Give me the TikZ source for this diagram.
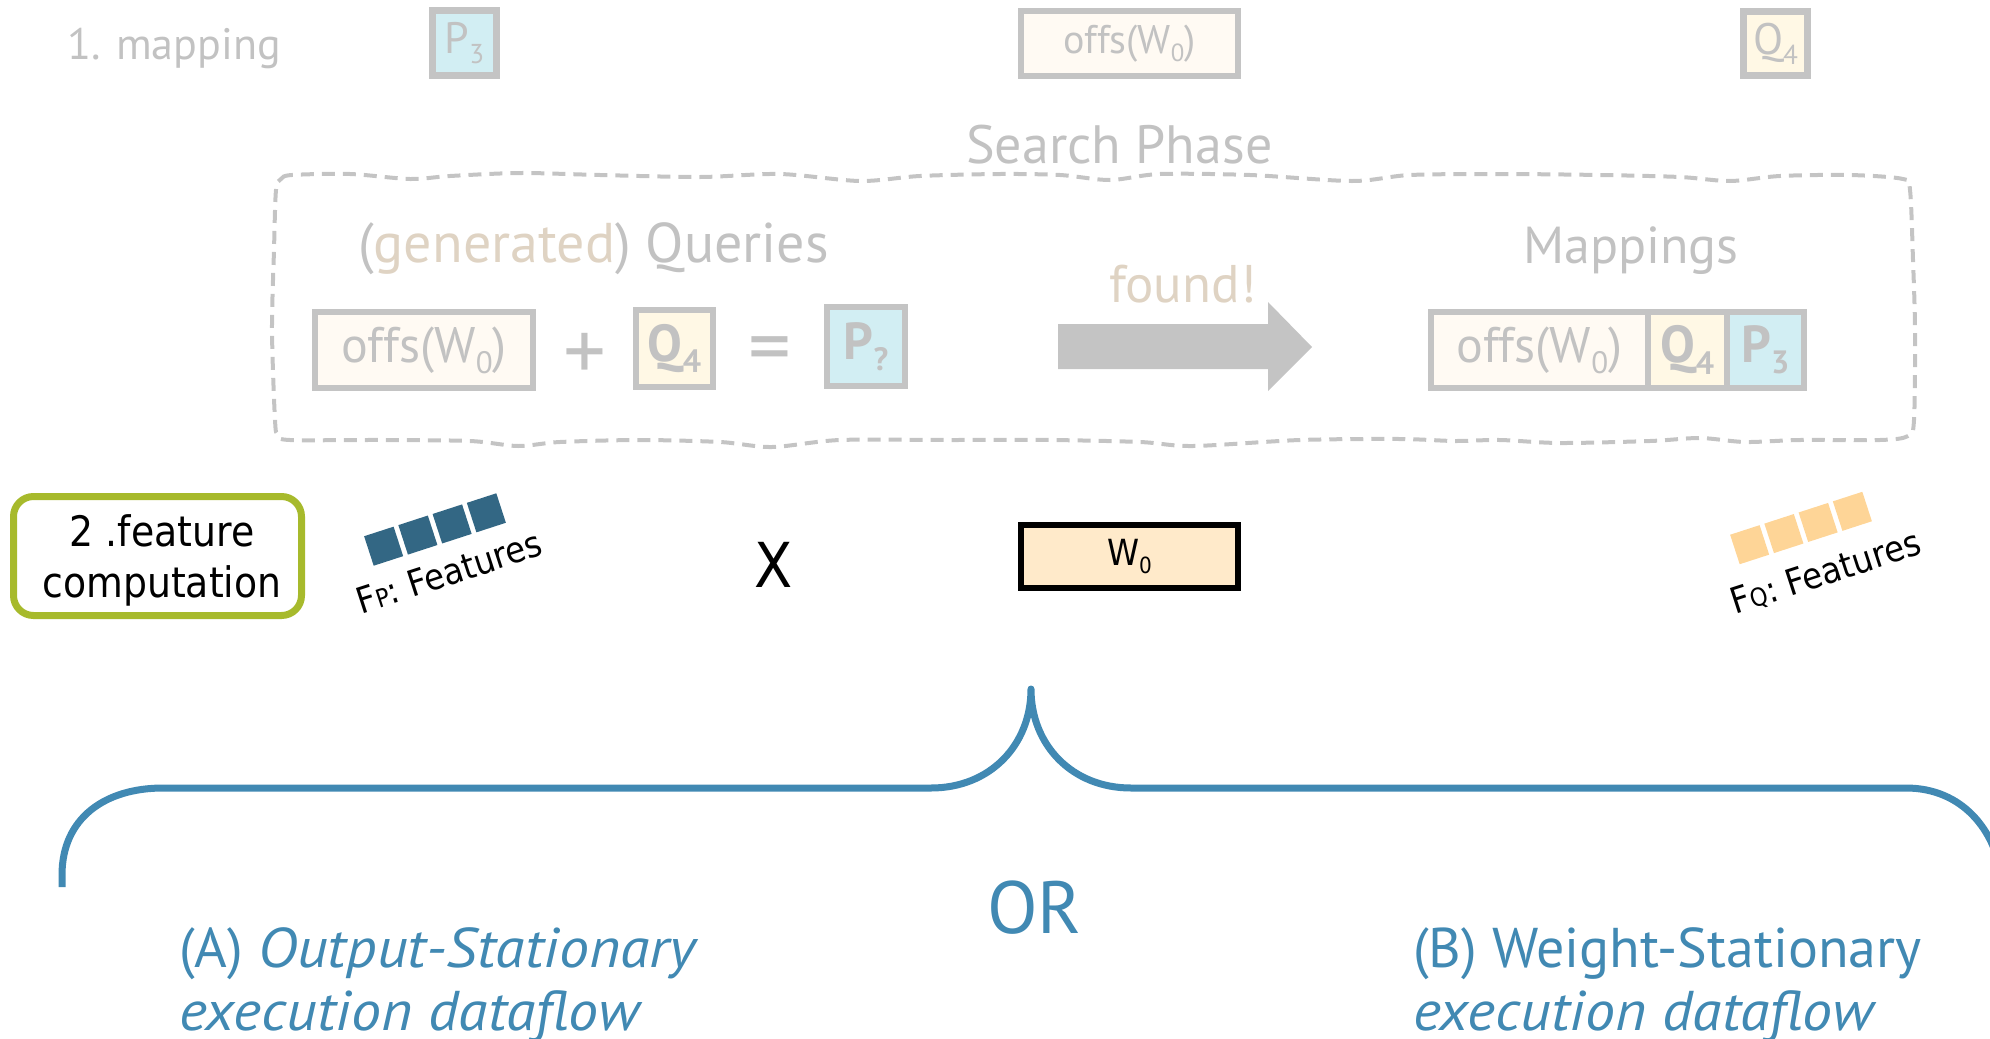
\documentclass[tikz,border=0pt]{standalone}
\usepackage{fontspec}
\usepackage{graphicx}
\setmainfont{PT Sans}
\newfontfamily\blk[FakeStretch=0.9]{DejaVu Sans}
\newfontfamily\itf[FakeStretch=1.07]{PT Sans Italic}
\newcommand\fsz[1]{\fontsize{#1}{#1}\selectfont}
\newcommand\lo[1]{\raisebox{-0.22em}{\scalebox{0.62}{#1}}}
\definecolor{gborder}{HTML}{C4C4C4}
\definecolor{gtext}{HTML}{C2C2C2}
\definecolor{tanc}{HTML}{DFD3C3}
\definecolor{cream}{HTML}{FFFAF3}
\definecolor{ylw}{HTML}{FFF8E5}
\definecolor{pcyan}{HTML}{D2EEF3}
\definecolor{wfill}{HTML}{FFEACA}
\definecolor{fpblue}{HTML}{336784}
\definecolor{fqorange}{HTML}{FED597}
\definecolor{gboxc}{HTML}{A7BA2C}
\definecolor{bblue}{HTML}{4189B3}
\begin{document}
\begin{tikzpicture}[x=1pt,y=-1pt,
  gtxt/.style={inner sep=0pt, text=gtext},
  topbox/.style={draw=gborder, line width=7pt, inner sep=0pt, text=gtext, font=\fsz{40}},
  qbox/.style={draw=gborder, line width=6pt, inner sep=0pt, text=gtext, font=\fsz{50}},
  fpsq/.style={fill=fpblue, minimum size=31pt, inner sep=0pt, transform shape},
  fqsq/.style={fill=fqorange, minimum size=31pt, inner sep=0pt, transform shape},
  feat/.style={inner sep=0pt, font=\blk\fsz{36}, rotate=18},
  bluetxt/.style={inner sep=0pt, text=bblue, font=\fsz{56}},
  brace/.style={draw=bblue, line width=7pt, line join=round}
]
\useasboundingbox (0,0) rectangle (1990,1039);
\clip (0,0) rectangle (1990,1039);

% ---- top row
\node[gtxt, anchor=base west, font=\fsz{44}] (map) at (67,59) {1. mapping};
\node[topbox, fill=pcyan, minimum width=64pt, minimum height=65pt, font=\fsz{44}] (p3top) at (464.5,43) {P\lo{3}};
\node[topbox, line width=6pt, fill=cream, minimum width=217pt, minimum height=65pt] (offtop) at (1129.5,43.5) {offs(W\lo{0})};
\node[topbox, fill=ylw, minimum width=64pt, minimum height=64pt, font=\fsz{44}] (q4top) at (1775.5,43.5) {Q\lo{4}};

% ---- search phase
\node[gtxt, anchor=base west, font=\fsz{54}] (search) at (966,163) {Search Phase};
\draw[gborder, line width=4pt, dash pattern=on 13pt off 8pt]
  plot[smooth cycle, tension=0.5] coordinates {
  (276,190) (281,179) (292,175) (350,174) (410,179) (450,176) (520,173) (600,175)
  (700,177) (780,174) (860,181) (920,176) (1000,174) (1060,175) (1110,180) (1160,174)
  (1250,175) (1352,181) (1410,175) (1500,174) (1600,175) (1680,177) (1730,181) (1780,176)
  (1850,175) (1903,179) (1910,190) (1913,260) (1915,330) (1914,420) (1908,436) (1880,440)
  (1800,440) (1745,442) (1700,438) (1650,441) (1560,443) (1500,440) (1455,441) (1400,439)
  (1300,440) (1193,446) (1140,442) (1050,440) (950,440) (840,440) (772,447) (720,442)
  (640,440) (560,442) (518,446) (470,441) (380,440) (290,440) (278,435) (275,420)
  (272,330) (274,250)};

\node[gtxt, anchor=base west, font=\fsz{56}] (queries) at (358,262) {(\textcolor{tanc}{generated}) Queries};
\node[qbox, fill=cream, minimum width=218pt, minimum height=76pt] (offq) at (424,350) {offs(W\lo{0})};
\node[gtxt, font=\fsz{85}] (plus) at (585,357) {+};
\node[qbox, fill=ylw, minimum width=77pt, minimum height=77pt, font=\bfseries\fsz{52}] (q4q) at (674.5,348.5) {Q\lo{4}};
\node[gtxt, font=\fsz{85}] (eq) at (770,356) {=};
\node[qbox, fill=pcyan, minimum width=78pt, minimum height=79pt, font=\bfseries\fsz{52}] (pq) at (866,346.5) {P\lo{?}};

\node[anchor=base west, inner sep=0pt, text=tanc, font=\fsz{53}] (found) at (1109,302) {found!};
\fill[gborder] (1058,324) -- (1268,324) -- (1268,302) -- (1312,347) -- (1268,391) -- (1268,369) -- (1058,369) -- cycle;

\node[gtxt, anchor=base west, font=\fsz{52}] (mappings) at (1523,263) {Mappings};
\node[qbox, fill=cream, minimum width=217pt, minimum height=76pt] (m1) at (1539.5,350) {offs(W\lo{0})};
\node[qbox, fill=ylw, minimum width=79pt, minimum height=76pt, font=\bfseries\fsz{52}] (m2) at (1687.5,350) {Q\lo{4}};
\node[qbox, fill=pcyan, minimum width=77pt, minimum height=76pt, font=\bfseries\fsz{52}] (m3) at (1765.5,350) {P\lo{3}};

% ---- feature computation row
\node[draw=gboxc, line width=7pt, rounded corners=20pt, minimum width=288pt, minimum height=119pt,
  inner sep=0pt] (fc) at (157.5,556) {};
\node[inner sep=0pt, anchor=base, font=\blk\fsz{42}] (fc1) at (162,546) {2 .feature};
\node[inner sep=0pt, anchor=base, font=\blk\fsz{42}] (fc2) at (162,597) {computation};

\begin{scope}[shift={(435,529.5)}, rotate=18]
  \node[fpsq] (fp1) at (-54,0) {};
  \node[fpsq] (fp2) at (-18,0) {};
  \node[fpsq] (fp3) at (18,0) {};
  \node[fpsq] (fp4) at (54,0) {};
\end{scope}
\node[feat] (fptext) at (449,572) {F{\fsz{25}P}: Features};

\node[inner sep=0pt, anchor=base, font=\blk\fsz{62}] (x) at (773.5,587) {X};

\node[draw=black, line width=6pt, fill=wfill, minimum width=217pt, minimum height=63pt,
  inner sep=0pt, font=\blk\fsz{36}] (w0) at (1129.5,556.5) {W\lo{0}};

\begin{scope}[shift={(1801,528)}, rotate=18]
  \node[fqsq] (fq1) at (-54,0) {};
  \node[fqsq] (fq2) at (-18,0) {};
  \node[fqsq] (fq3) at (18,0) {};
  \node[fqsq] (fq4) at (54,0) {};
\end{scope}
\node[feat] (fqtext) at (1826,573) {F{\fsz{25}Q}: Features};

% ---- brace
\draw[brace] (62,887) -- (62,875) .. controls (62,818) and (105,788) .. (163,788)
  -- (931,788) .. controls (990,788) and (1031,745) .. (1031,689)
  .. controls (1031,745) and (1072,788) .. (1131,788)
  -- (1906,788) .. controls (1962,788) and (1996,830) .. (2002,880);

\node[anchor=base west, inner sep=0pt, text=bblue, font=\fsz{74}] (or) at (987,933) {OR};

\node[bluetxt, anchor=base west] (a1) at (179,967) {(A) {\itf Output-Stationary}};
\node[bluetxt, anchor=base west] (a2) at (179,1030) {{\itf execution dataflow}};
\node[bluetxt, anchor=base west] (b1) at (1413,967) {(B) Weight-Stationary};
\node[bluetxt, anchor=base west] (b2) at (1413,1030) {{\itf execution dataflow}};
\end{tikzpicture}
\end{document}
